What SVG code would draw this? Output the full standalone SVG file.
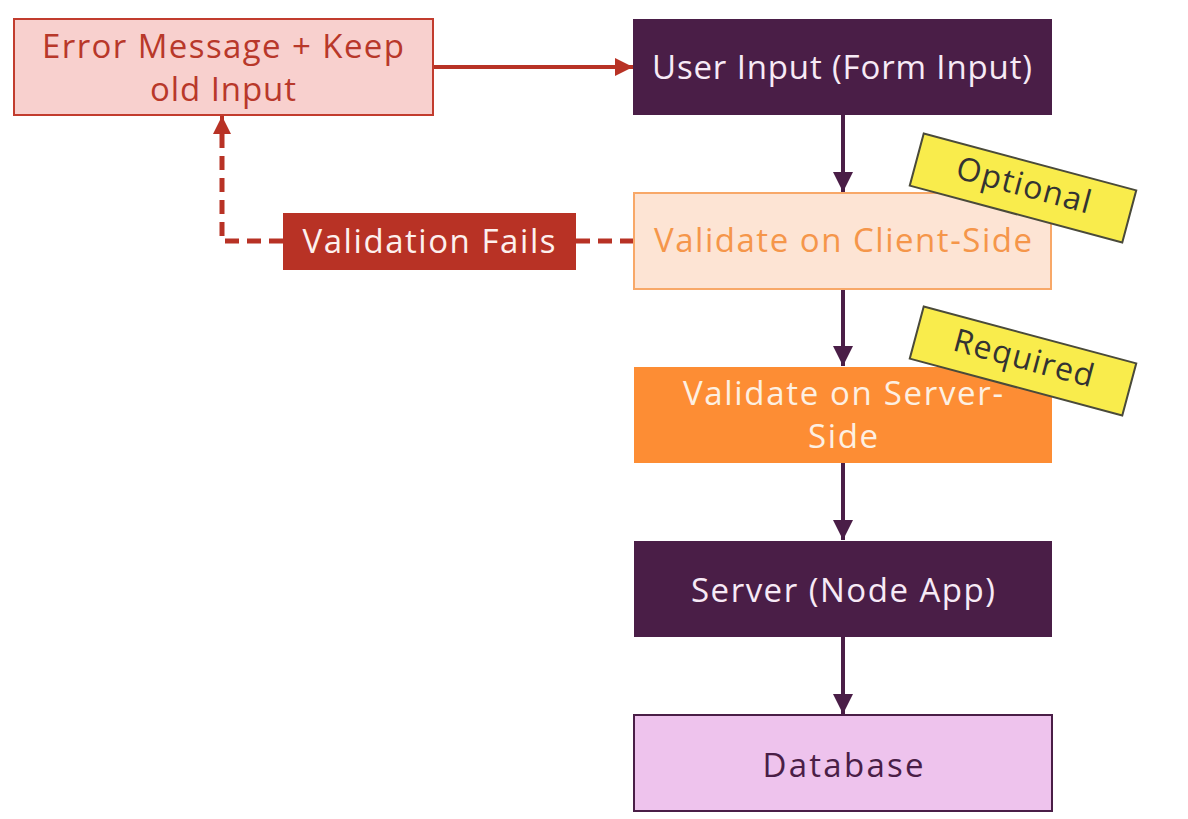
<svg xmlns="http://www.w3.org/2000/svg" width="1188" height="819" viewBox="0 0 1188 819">
<defs>
<marker id="ap" viewBox="0 0 10 10" refX="10" refY="5" markerWidth="5" markerHeight="5" markerUnits="strokeWidth" orient="auto"><path d="M0,0 L10,5 L0,10 z" fill="#4a1e47"/></marker>
<marker id="ar" viewBox="0 0 10 10" refX="10" refY="5" markerWidth="4.5" markerHeight="4.5" markerUnits="strokeWidth" orient="auto"><path d="M0,0 L10,5 L0,10 z" fill="#b83225"/></marker>
</defs>
<style>
text{font-family:"Open Sans","Liberation Sans",sans-serif;font-size:33px;text-anchor:middle}
.purple{fill:#4a1e47}
.wt{fill:#f7eaf6}
.tag{fill:#f9ec4c;stroke:#4a4a3a;stroke-width:2}
.tagt{fill:#333;font-size:32px}
.cp{stroke:#4a1e47;stroke-width:4;fill:none}
.cr{stroke:#b83225;stroke-width:4;fill:none}
.dash{stroke:#b83225;stroke-width:5;fill:none;stroke-dasharray:14 8}
</style>
<rect width="1188" height="819" fill="#ffffff"/>
<g id="connectors">
<line class="cr" x1="433" y1="67" x2="633" y2="67" marker-end="url(#ar)"/>
<line class="cp" x1="843" y1="115" x2="843" y2="192" marker-end="url(#ap)"/>
<line class="cp" x1="843" y1="289" x2="843" y2="366" marker-end="url(#ap)"/>
<line class="cp" x1="843" y1="463" x2="843" y2="540" marker-end="url(#ap)"/>
<line class="cp" x1="843" y1="637" x2="843" y2="714" marker-end="url(#ap)"/>
<line class="dash" x1="634" y1="241" x2="576" y2="241"/>
<path class="dash" d="M283,241 H222 V134"/>
<line class="cr" x1="222" y1="136" x2="222" y2="116" marker-end="url(#ar)"/>
</g>
<g id="error">
<rect x="14" y="19" width="419" height="96" fill="#f8d0ce" stroke="#c23c2e" stroke-width="2"/>
<text x="223" y="58" fill="#b8382a" textLength="362">Error Message + Keep</text>
<text x="223" y="101" fill="#b8382a" textLength="146">old Input</text>
</g>
<g id="userinput">
<rect x="633" y="19" width="419" height="96" class="purple"/>
<text x="842" y="79" class="wt" textLength="380">User Input (Form Input)</text>
</g>
<g id="client">
<rect x="634" y="193" width="417" height="96" fill="#fde4d4" stroke="#f8a868" stroke-width="2"/>
<text x="843" y="252" fill="#f5964a" textLength="378">Validate on Client-Side</text>
</g>
<g id="fails">
<rect x="283" y="213" width="293" height="57" fill="#b83225"/>
<text x="429" y="253" fill="#fdf0ee" textLength="253">Validation Fails</text>
</g>
<g id="server-side">
<rect x="634" y="367" width="418" height="96" fill="#fd8d34"/>
<text x="843" y="405" fill="#fdf0e2" textLength="320">Validate on Server-</text>
<text x="843" y="448" fill="#fdf0e2" textLength="70">Side</text>
</g>
<g id="server">
<rect x="634" y="541" width="418" height="96" class="purple"/>
<text x="843" y="602" class="wt" textLength="304">Server (Node App)</text>
</g>
<g id="database">
<rect x="634" y="715" width="418" height="96" fill="#eec3ed" stroke="#4a1e47" stroke-width="2"/>
<text x="843" y="777" fill="#4a1e47" textLength="161">Database</text>
</g>
<g id="optional" transform="translate(1023,188) rotate(15)">
<rect x="-110" y="-27" width="220" height="54" class="tag"/>
<text x="0" y="8" class="tagt" textLength="138">Optional</text>
</g>
<g id="required" transform="translate(1023,361) rotate(15)">
<rect x="-110" y="-27" width="220" height="54" class="tag"/>
<text x="0" y="8" class="tagt" textLength="144">Required</text>
</g>
</svg>
